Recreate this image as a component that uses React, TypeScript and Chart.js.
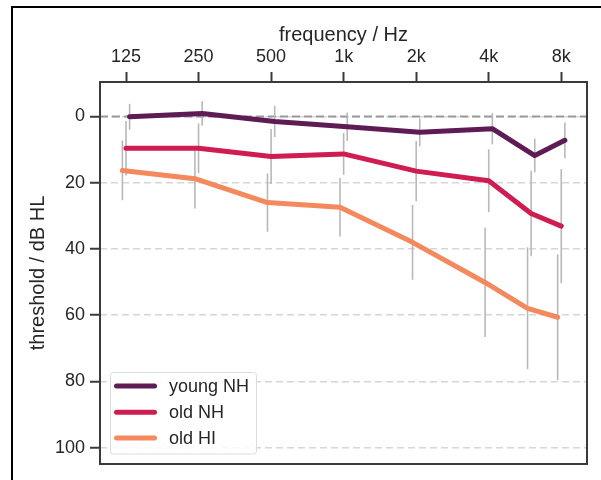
import React, { useEffect, useRef } from "react";
import { Chart, registerables } from "chart.js";

Chart.register(...registerables);

const frequencies = [125, 250, 500, 1000, 2000, 4000, 6000, 8000];
const tickFrequencies = [125, 250, 500, 1000, 2000, 4000, 8000];
const tickLabels = ["125", "250", "500", "1k", "2k", "4k", "8k"];
const yTicks = [0, 20, 40, 60, 80, 100];

const groupNames = ["young NH", "old NH", "old HI"];
const youngNH = [0.1, -0.9, 1.5, 3.1, 4.8, 3.7, 11.8, 7.2];
const youngNHSd = [3.9, 3.7, 4.7, 4.3, 4.2, 4.7, 5.1, 5.4];
const oldNH = [9.6, 9.6, 12.1, 11.3, 16.5, 19.4, 29.3, 33.1];
const oldNHSd = [8.2, 7.5, 8.3, 6.3, 9.1, 9.5, 12.9, 17.2];
const oldHI = [16.3, 18.8, 26.0, 27.4, 38.0, 50.1, 57.9, 60.6];
const oldHISd = [9.0, 9.0, 8.8, 8.8, 11.3, 16.5, 18.4, 19.0];

const groupMeans = [youngNH, oldNH, oldHI];
const groupSds = [youngNHSd, oldNHSd, oldHISd];
const groupColors = ["#5f1c54", "#cf1c51", "#f5895e"];
const groupShift = [1.035, 1, 0.966];

const FONT = '"Liberation Sans", Arial, Helvetica, sans-serif';
const TEXT = "#262626";
const AXIS = "#3a3a3a";

const zeroLinePlugin = {
  id: "zeroLine",
  beforeDatasetsDraw(chart: any) {
    const { ctx, chartArea, scales } = chart;
    const y = scales.y.getPixelForValue(0);
    ctx.save();
    ctx.strokeStyle = "#9a9a9a";
    ctx.lineWidth = 2;
    ctx.setLineDash([8, 4]);
    ctx.beginPath();
    ctx.moveTo(chartArea.left, y);
    ctx.lineTo(chartArea.right, y);
    ctx.stroke();
    ctx.restore();
  },
};

const errorBarPlugin = {
  id: "errorBars",
  beforeDatasetsDraw(chart: any) {
    const { ctx, scales } = chart;
    ctx.save();
    ctx.strokeStyle = "#b8b8b8";
    ctx.lineWidth = 1.6;
    ctx.setLineDash([]);
    groupMeans.forEach((means, g) => {
      means.forEach((m, i) => {
        const sd = groupSds[g][i];
        const x = scales.x.getPixelForValue(frequencies[i] * groupShift[g]);
        const y1 = scales.y.getPixelForValue(m - sd);
        const y2 = scales.y.getPixelForValue(m + sd);
        ctx.beginPath();
        ctx.moveTo(x, y1);
        ctx.lineTo(x, y2);
        ctx.stroke();
      });
    });
    ctx.restore();
  },
};

const framePlugin = {
  id: "frame",
  afterDraw(chart: any) {
    const { ctx, chartArea } = chart;
    ctx.save();
    ctx.strokeStyle = AXIS;
    ctx.lineWidth = 2;
    ctx.setLineDash([]);
    ctx.strokeRect(
      chartArea.left,
      chartArea.top,
      chartArea.right - chartArea.left,
      chartArea.bottom - chartArea.top
    );
    ctx.restore();
  },
};

const legendPlugin = {
  id: "insideLegend",
  afterDraw(chart: any) {
    const { ctx, chartArea } = chart;
    const bx = chartArea.left + 10.5;
    const by = chartArea.bottom - 91.5;
    const bw = 146;
    const bh = 81.5;
    ctx.save();
    ctx.fillStyle = "rgba(255,255,255,0.85)";
    ctx.strokeStyle = "#dcdcdc";
    ctx.lineWidth = 1;
    ctx.beginPath();
    const r = 3;
    ctx.moveTo(bx + r, by);
    ctx.lineTo(bx + bw - r, by);
    ctx.arcTo(bx + bw, by, bx + bw, by + r, r);
    ctx.lineTo(bx + bw, by + bh - r);
    ctx.arcTo(bx + bw, by + bh, bx + bw - r, by + bh, r);
    ctx.lineTo(bx + r, by + bh);
    ctx.arcTo(bx, by + bh, bx, by + bh - r, r);
    ctx.lineTo(bx, by + r);
    ctx.arcTo(bx, by, bx + r, by, r);
    ctx.closePath();
    ctx.fill();
    ctx.stroke();
    const rows = [13.5, 39.7, 65.4];
    groupNames.forEach((name, g) => {
      const y = by + rows[g];
      ctx.strokeStyle = groupColors[g];
      ctx.lineWidth = 5;
      ctx.lineCap = "round";
      ctx.beginPath();
      ctx.moveTo(bx + 6, y);
      ctx.lineTo(bx + 44, y);
      ctx.stroke();
      ctx.fillStyle = TEXT;
      ctx.font = `18px ${FONT}`;
      ctx.textBaseline = "middle";
      ctx.textAlign = "left";
      ctx.fillText(name, bx + 58.5, y + 1);
    });
    ctx.restore();
  },
};

export default function App() {
  const canvasRef = useRef<HTMLCanvasElement | null>(null);

  useEffect(() => {
    const canvas = canvasRef.current;
    if (!canvas) return;
    const datasets = groupNames.map((name, g) => ({
      label: name,
      data: groupMeans[g].map((v, i) => ({ x: frequencies[i] * groupShift[g], y: v })),
      borderColor: groupColors[g],
      backgroundColor: groupColors[g],
      borderWidth: 5,
      borderCapStyle: "round" as const,
      borderJoinStyle: "round" as const,
      pointRadius: 0,
      pointHoverRadius: 0,
      tension: 0,
      fill: false,
    }));

    const chart = new Chart(canvas, {
      type: "line",
      data: { datasets },
      plugins: [zeroLinePlugin, errorBarPlugin, framePlugin, legendPlugin],
      options: {
        animation: false,
        responsive: false,
        maintainAspectRatio: false,
        layout: { padding: { left: 0, top: 0, right: 14, bottom: 16 } },
        plugins: {
          legend: { display: false },
          tooltip: { enabled: false },
        },
        scales: {
          x: {
            type: "logarithmic",
            position: "top",
            min: 97.5,
            max: 10230,
            afterBuildTicks: (s: any) => {
              s.ticks = tickFrequencies.map((v) => ({ value: v }));
            },
            afterFit: (s: any) => {
              s.height = 82;
            },
            ticks: {
              autoSkip: false,
              maxRotation: 0,
              padding: 4,
              color: TEXT,
              font: { family: FONT, size: 18 },
              callback: (v: any) => {
                const i = tickFrequencies.indexOf(Number(v));
                return i >= 0 ? tickLabels[i] : "";
              },
            },
            grid: {
              drawOnChartArea: false,
              drawTicks: true,
              tickLength: 10,
              tickColor: AXIS,
              tickWidth: 2,
            },
            border: { display: false },
            title: {
              display: true,
              text: "frequency / Hz",
              color: TEXT,
              font: { family: FONT, size: 20 },
              padding: { top: 23, bottom: 0 },
            },
          },
          y: {
            type: "linear",
            reverse: true,
            min: -10.4,
            max: 104.9,
            afterBuildTicks: (s: any) => {
              s.ticks = yTicks.map((v) => ({ value: v }));
            },
            afterFit: (s: any) => {
              s.width = 100;
            },
            ticks: {
              padding: 5,
              color: TEXT,
              font: { family: FONT, size: 18 },
            },
            grid: {
              drawOnChartArea: true,
              color: "#d6d6d6",
              lineWidth: 1.5,
              drawTicks: true,
              tickLength: 10,
              tickColor: AXIS,
              tickWidth: 2,
              tickBorderDash: [],
            },
            border: { display: false, dash: [7, 4] },
            title: {
              display: true,
              text: "threshold / dB HL",
              color: TEXT,
              font: { family: FONT, size: 20 },
              padding: { top: 26, bottom: 0 },
            },
          },
        },
      },
    });
    return () => chart.destroy();
  }, []);

  return (
    <div
      style={{
        position: "fixed",
        left: 0,
        top: 0,
        width: 601,
        height: 480,
        overflow: "hidden",
        background: "#fff",
      }}
    >
      <canvas ref={canvasRef} width={601} height={480} style={{ display: "block" }} />
      <div
        style={{
          position: "absolute",
          left: 11,
          top: 6,
          width: 700,
          height: 600,
          borderLeft: "2.5px solid #000",
          borderTop: "2.5px solid #000",
          pointerEvents: "none",
        }}
      />
    </div>
  );
}
